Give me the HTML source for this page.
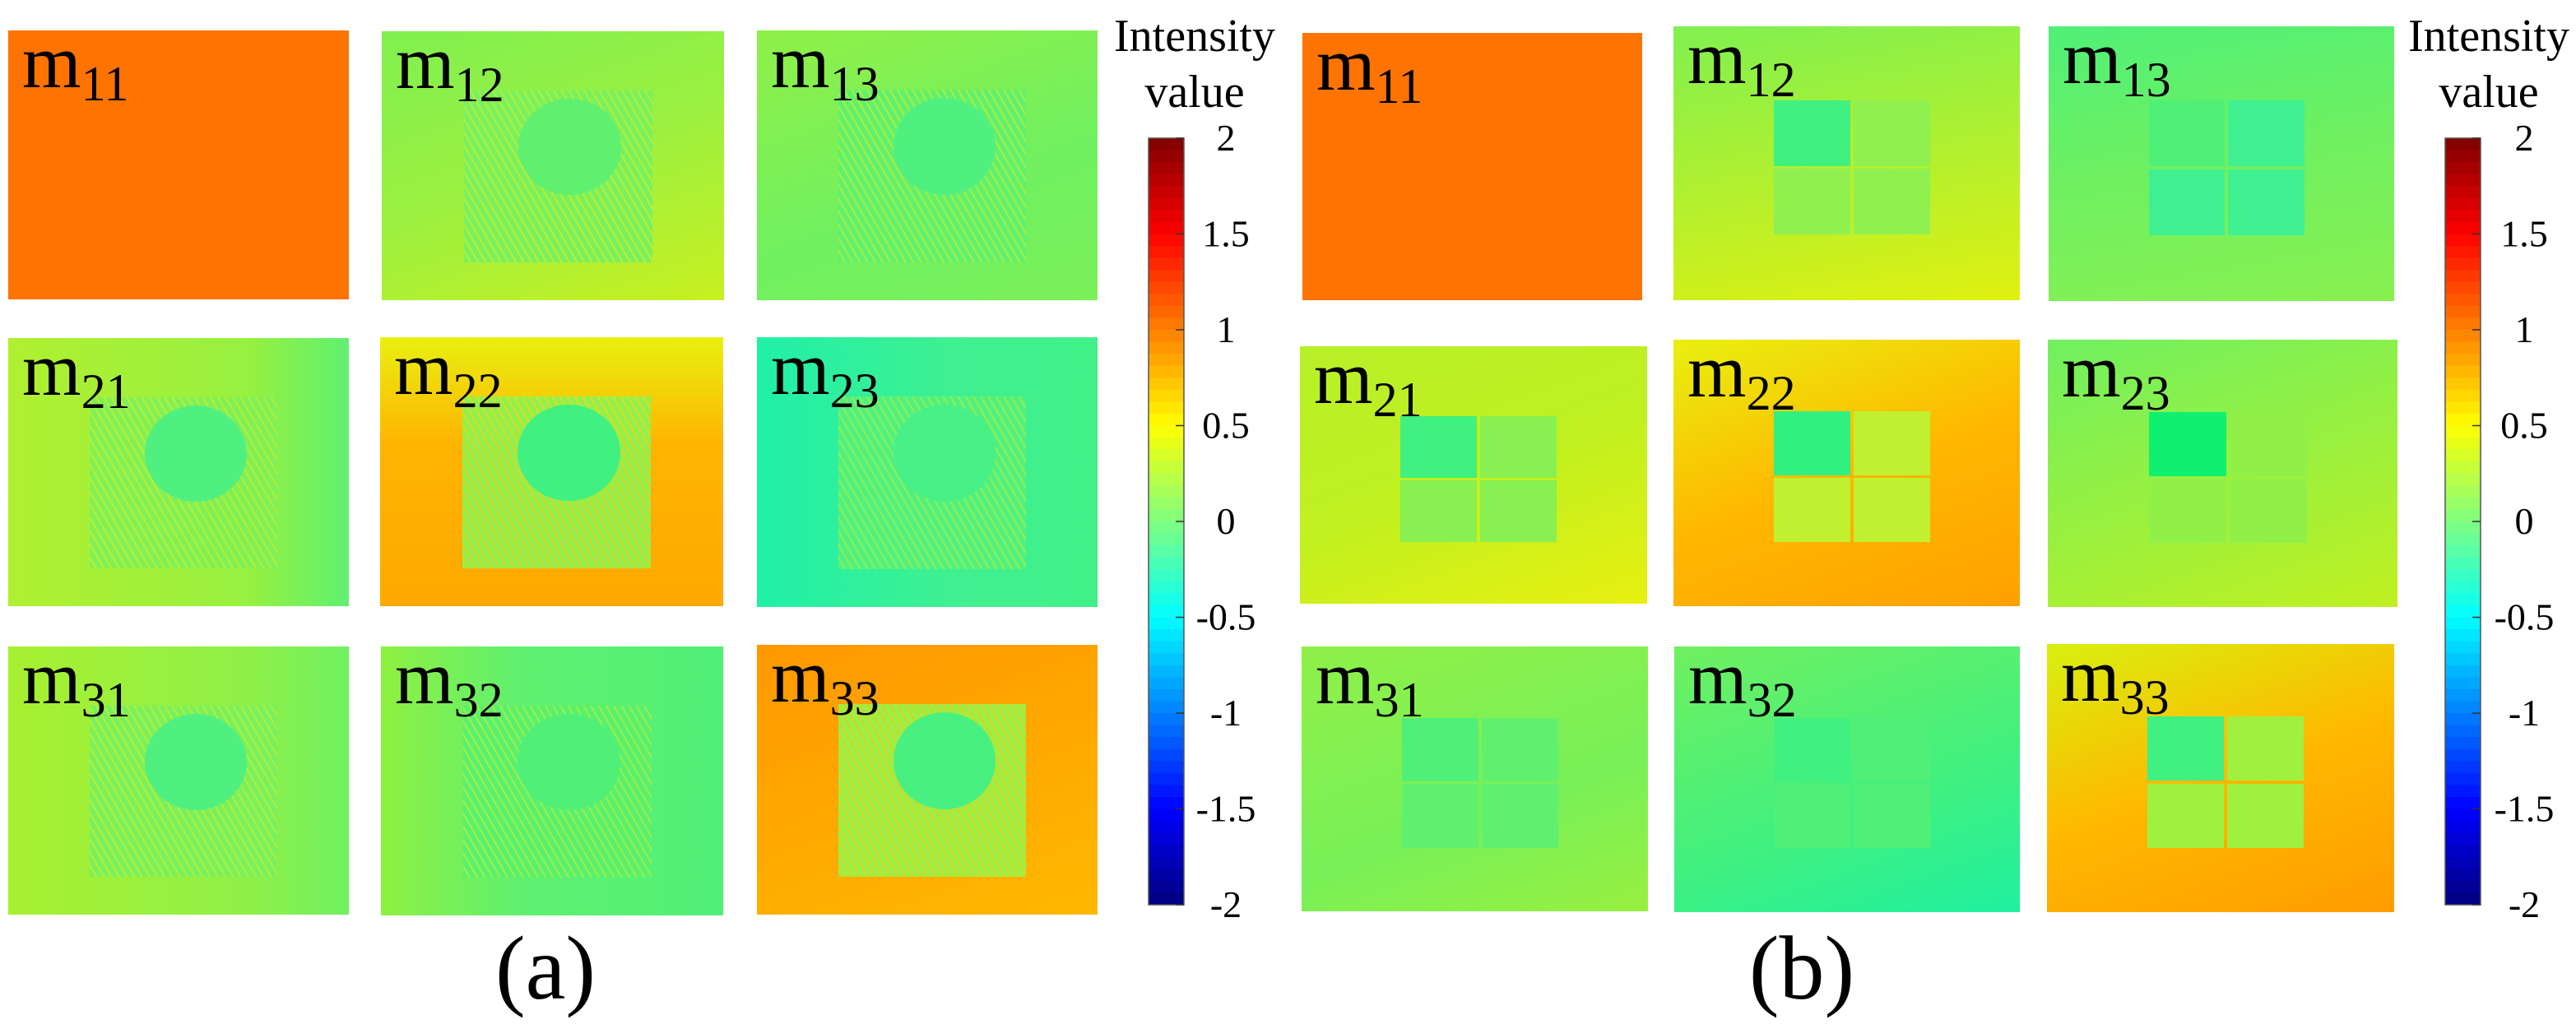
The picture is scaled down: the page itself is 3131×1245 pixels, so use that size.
<!DOCTYPE html>
<html><head><meta charset="utf-8"><style>
html,body{margin:0;padding:0;background:#fff;}
#root{position:relative;width:3131px;height:1245px;overflow:hidden;background:#fff;font-family:"Liberation Serif","DejaVu Serif","Times New Roman",serif;}
.tile{position:absolute;overflow:hidden;}
.lbl{position:absolute;left:17px;top:-8px;font-size:92px;line-height:1;color:#000;white-space:nowrap;font-family:"Liberation Serif","DejaVu Serif",serif;}
.lbl sub{font-size:60px;vertical-align:-16px;}
.feat{position:absolute;}
.cap{position:absolute;font-size:110px;line-height:1;transform:translateX(-50%);font-family:"Liberation Serif","DejaVu Serif",serif;}
</style></head><body>
<div id="root">
<svg id="cbs" width="3131" height="1245" style="position:absolute;left:0;top:0;pointer-events:none;z-index:5"></svg>
</div>
<script>
const tickValues=[2,1.5,1,0.5,0,-0.5,-1,-1.5,-2];
const tickLabels=["2","1.5","1","0.5","0","-0.5","-1","-1.5","-2"];
const cbRange=[-2,2];
const cbSteps=64;
const root=document.getElementById('root');
const svg=document.getElementById('cbs');
const NS='http://www.w3.org/2000/svg';
const SERIF='"Liberation Serif", "DejaVu Serif", serif';
function jet(t){
  function c(x){return Math.max(0,Math.min(1,x));}
  const r=c(1.5-Math.abs(4*t-3)),g=c(1.5-Math.abs(4*t-2)),b=c(1.5-Math.abs(4*t-1));
  return 'rgb('+Math.round(r*255)+','+Math.round(g*255)+','+Math.round(b*255)+')';
}
const panelA=[
 ['m','11',10,37,414,327,'#ff7300',null],
 ['m','12',464,38,416,327,'linear-gradient(160deg,#80f050 0%,#9cf040 50%,#c8f020 100%)','a','#78f060','#60f070'],
 ['m','13',920,37,414,328,'linear-gradient(160deg,#90f048 0%,#70f060 60%,#7af058 100%)','a','#60f070','#50f080'],
 ['m','21',10,411,414,326,'linear-gradient(90deg,#b0f030 0%,#98f040 70%,#60f070 100%)','a','#80f058','#50f080'],
 ['m','22',462,410,417,327,'linear-gradient(180deg,#e8f010 0%,#ffb400 40%,#ffa800 100%)','a','#90f050','#40f080'],
 ['m','23',920,410,414,328,'linear-gradient(90deg,#20f0a8 0%,#40f090 60%,#40f088 100%)','a','#50f080','#48f088'],
 ['m','31',10,786,414,326,'linear-gradient(90deg,#a8f030 0%,#90f048 70%,#70f060 100%)','a','#78f060','#50f080'],
 ['m','32',463,786,416,327,'linear-gradient(90deg,#90f040 0%,#60f070 40%,#50f078 100%)','a','#58f070','#50f078'],
 ['m','33',920,784,414,328,'linear-gradient(160deg,#ff9800 0%,#ffa800 50%,#ffb800 100%)','a','#98f048','#48f080']
];
const panelB=[
 ['m','11',1583,40,413,325,'#ff7300',null],
 ['m','12',2034,32,421,333,'linear-gradient(170deg,#80f050 0%,#b0f030 50%,#e0f010 100%)','b','#40f080','#90f050'],
 ['m','13',2490,32,420,334,'linear-gradient(170deg,#50f078 0%,#70f060 50%,#88f050 100%)','b','#50f078','#40f090'],
 ['m','21',1580,421,422,313,'linear-gradient(160deg,#b8f028 0%,#c0f020 50%,#e8f010 100%)','b','#40f080','#88f050'],
 ['m','22',2034,413,421,324,'linear-gradient(160deg,#e8f010 0%,#ffb800 50%,#ffa000 100%)','b','#30f080','#c0f030'],
 ['m','23',2489,413,425,325,'linear-gradient(160deg,#70f060 0%,#98f040 50%,#c0f020 100%)','b','#10f070','#90f048'],
 ['m','31',1582,786,421,322,'linear-gradient(160deg,#90f048 0%,#78f058 60%,#98f040 100%)','b','#50f078','#60f070'],
 ['m','32',2035,786,420,323,'linear-gradient(160deg,#70f060 0%,#40f080 60%,#20f0a0 100%)','b','#40f080','#50f078'],
 ['m','33',2488,783,422,326,'linear-gradient(160deg,#d8f010 0%,#ffb800 50%,#ff9c00 100%)','b','#40f080','#a0f040']
];
function makeTile(t,panel){
  const d=document.createElement('div');
  d.className='tile';
  
  
  d.style.left=t[2]+'px';d.style.top=t[3]+'px';d.style.width=t[4]+'px';d.style.height=t[5]+'px';
  d.style.background=t[6];
  const w=t[4],h=t[5];
  if(t[7]==='a'){
    const sq=document.createElement('div');sq.className='feat';
    
    
    sq.style.cssText='left:'+(w*0.24)+'px;top:'+(h*0.22)+'px;width:'+(w*0.55)+'px;height:'+(h*0.64)+'px;background:repeating-linear-gradient(60deg,'+t[8]+' 0 6px,rgba(200,240,40,0.6) 6px 8px);';
    d.appendChild(sq);
    const ci=document.createElement('div');ci.className='feat';
    
    
    ci.style.cssText='left:'+(w*0.40)+'px;top:'+(h*0.25)+'px;width:'+(w*0.30)+'px;height:'+(h*0.36)+'px;border-radius:50%;background:'+t[9]+';';
    d.appendChild(ci);
  } else if(t[7]==='b'){
    const qs=[[0.29,0.27,t[8]],[0.52,0.27,t[9]],[0.29,0.52,t[9]],[0.52,0.52,t[9]]];
    for(const q of qs){
      const s=document.createElement('div');s.className='feat';
      
      
      s.style.cssText='left:'+(w*q[0])+'px;top:'+(h*q[1])+'px;width:'+(w*0.22)+'px;height:'+(h*0.24)+'px;background:'+q[2]+';';
      d.appendChild(s);
    }
  }
  const l=document.createElement('div');l.className='lbl';
  
  
  l.innerHTML=t[0]+'<sub>'+t[1]+'</sub>';
  d.appendChild(l);
  root.appendChild(d);
}
panelA.forEach(t=>makeTile(t,'a'));
panelB.forEach(t=>makeTile(t,'b'));
function colorbar(x0,x1,y0,y1,labX,titleX,id){
  const yScale=v=>y0+(cbRange[1]-v)/(cbRange[1]-cbRange[0])*(y1-y0);
  const g=document.createElementNS(NS,'g');
  
  
  const sh=(y1-y0)/cbSteps;
  for(let i=0;i<cbSteps;i++){
    const r=document.createElementNS(NS,'rect');
    
    
    r.setAttribute('x',x0);r.setAttribute('y',y0+i*sh);r.setAttribute('width',x1-x0);r.setAttribute('height',sh+0.6);
    r.setAttribute('fill',jet(1-(i+0.5)/cbSteps));
    g.appendChild(r);
  }
  const fr=document.createElementNS(NS,'rect');
  
  
  fr.setAttribute('x',x0);fr.setAttribute('y',y0);fr.setAttribute('width',x1-x0);fr.setAttribute('height',y1-y0);
  fr.setAttribute('fill','none');fr.setAttribute('stroke','#555');fr.setAttribute('stroke-width','1.5');
  g.appendChild(fr);
  tickValues.forEach((v,i)=>{
    const y=yScale(v);
    const tk=document.createElementNS(NS,'line');
    
    
    tk.setAttribute('x1',x1-10);tk.setAttribute('x2',x1);tk.setAttribute('y1',y);tk.setAttribute('y2',y);
    tk.setAttribute('stroke','#333');tk.setAttribute('stroke-width','1.5');
    g.appendChild(tk);
    const tx=document.createElementNS(NS,'text');
    
    
    tx.setAttribute('x',labX);tx.setAttribute('y',y+15);tx.setAttribute('text-anchor','middle');
    tx.style.fontFamily=SERIF;tx.setAttribute('font-size','46');
    tx.textContent=tickLabels[i];
    g.appendChild(tx);
  });
  ['Intensity','value'].forEach((s,i)=>{
    const tx=document.createElementNS(NS,'text');
    
    
    tx.setAttribute('x',titleX);tx.setAttribute('y',i?130:62);tx.setAttribute('text-anchor','middle');
    tx.style.fontFamily=SERIF;tx.setAttribute('font-size','56');
    tx.textContent=s;
    g.appendChild(tx);
  });
  svg.appendChild(g);
}
colorbar(1396,1439,168,1100,1490,1452,'a');
colorbar(2972,3015,168,1100,3068,3025,'b');
[['(a)',663,'caption-a'],['(b)',2190,'caption-b']].forEach(c=>{
  const d=document.createElement('div');d.className='cap';
  
  
  d.style.left=c[1]+'px';d.style.top='1122px';d.textContent=c[0];
  root.appendChild(d);
});
</script>
</body></html>
